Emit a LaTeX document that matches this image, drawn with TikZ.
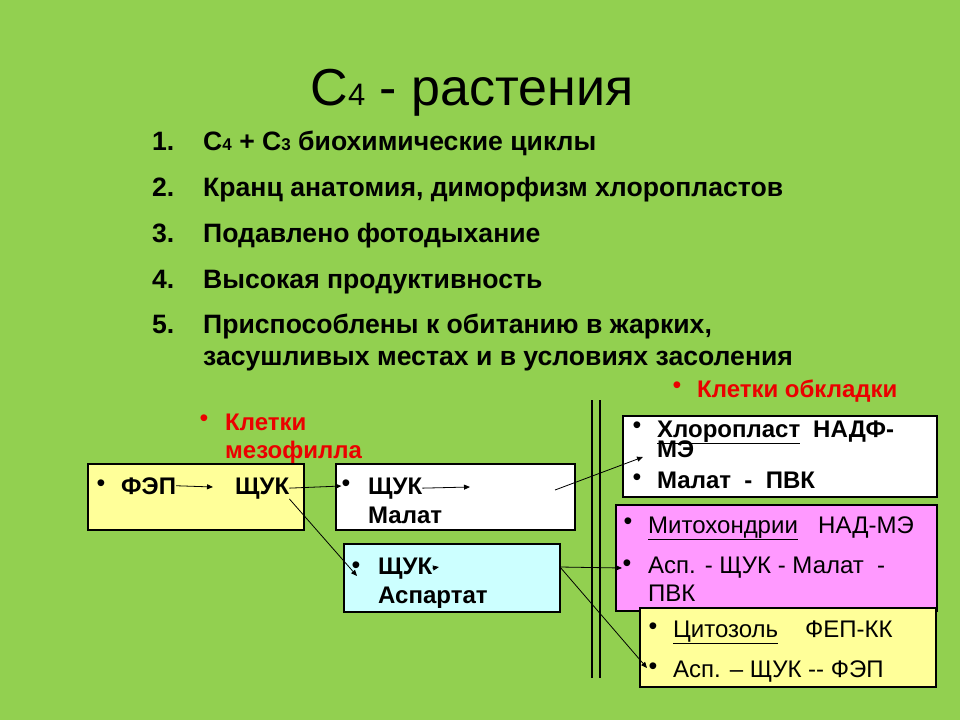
\documentclass[tikz,border=0pt]{standalone}
\usepackage{fontspec}
\setmainfont{Liberation Sans}
\usetikzlibrary{arrows.meta}
\definecolor{slidegreen}{RGB}{146,208,80}
\definecolor{paleyellow}{RGB}{255,255,153}
\definecolor{palecyan}{RGB}{204,255,255}
\definecolor{palepink}{RGB}{255,153,255}
\definecolor{labelred}{RGB}{235,0,0}
\tikzset{
  cellbox/.style={draw=black, line width=1.3pt, inner sep=0pt},
  itemtxt/.style={anchor=base west, inner sep=0pt, font=\bfseries\fontsize{26.6}{30}\selectfont},
  boldtxt/.style={anchor=base west, inner sep=0pt, font=\bfseries\fontsize{24}{26}\selectfont},
  plaintxt/.style={anchor=base west, inner sep=0pt, font=\fontsize{24}{26}\selectfont},
  redtxt/.style={anchor=base west, inner sep=0pt, text=labelred, font=\bfseries\fontsize{24}{26}\selectfont},
  dot/.style={inner sep=0pt, yshift=-3pt, font=\fontsize{25}{26}\selectfont},
  flow/.style={line width=0.8pt, -{Triangle[length=6pt,width=5pt]}},
}
\begin{document}
\begin{tikzpicture}[x=1pt,y=-1pt]
\fill[slidegreen] (0,0) rectangle (960,720);
\useasboundingbox (0,0) rectangle (960,720);
% title and list
\node[anchor=base, inner sep=0pt, font=\fontsize{52}{56}\selectfont] (title) at (472,105) {С{\fontsize{31}{32}\selectfont 4} - растения};
\node[itemtxt] (n1) at (152,150) {1.};
\node[itemtxt] (i1) at (203,150) {С{\fontsize{17}{18}\selectfont 4} + С{\fontsize{17}{18}\selectfont 3} биохимические циклы};
\node[itemtxt] (n2) at (152,196) {2.};
\node[itemtxt] (i2) at (203,196) {Кранц анатомия, диморфизм хлоропластов};
\node[itemtxt] (n3) at (152,242) {3.};
\node[itemtxt] (i3) at (203,242) {Подавлено фотодыхание};
\node[itemtxt] (n4) at (152,288) {4.};
\node[itemtxt] (i4) at (203,288) {Высокая продуктивность};
\node[itemtxt] (n5) at (152,333) {5.};
\node[itemtxt] (i5) at (203,333) {Приспособлены к обитанию в жарких,};
\node[itemtxt] (i5b) at (203,365) {засушливых местах и в условиях засоления};
% red labels
\node[dot, text=labelred] (obdot) at (677,385) {•};
\node[redtxt] (obkl) at (697,397) {Клетки обкладки};
\node[dot, text=labelred] (mezdot) at (204,418) {•};
\node[redtxt] (mez1) at (225,430) {Клетки};
\node[redtxt] (mez2) at (225,458) {мезофилла};
% boxes
\node[cellbox, fill=paleyellow, minimum width=216pt, minimum height=66pt] (mesobox) at (196,497) {};
\node[cellbox, fill=white, minimum width=239pt, minimum height=66pt] (malbox) at (455.5,497) {};
\node[cellbox, fill=palecyan, minimum width=216pt, minimum height=68pt] (aspbox) at (452,578) {};
\node[cellbox, fill=white, minimum width=314pt, minimum height=81pt] (chlbox) at (780,456.5) {};
\node[cellbox, fill=palepink, minimum width=321pt, minimum height=106pt] (mitbox) at (776.5,558) {};
\node[cellbox, fill=paleyellow, minimum width=296pt, minimum height=79pt] (cytbox) at (788,647.5) {};
% double wall
\draw[line width=1.2pt] (592,400) -- (592,678);
\draw[line width=1.2pt] (600,400) -- (600,678);
% mesophyll texts
\node[dot] (fepdot) at (101,483) {•};
\node[boldtxt] (fep) at (121,494) {ФЭП};
\node[boldtxt] (shukA) at (235,494) {ЩУК};
\node[dot] (maldot) at (346,483) {•};
\node[boldtxt] (shukB) at (368,494) {ЩУК};
\node[boldtxt] (malat) at (368,523) {Малат};
\node[dot] (aspdot) at (356,565) {•};
\node[boldtxt] (shukC) at (378,574) {ЩУК};
\node[boldtxt] (aspart) at (378,603) {Аспартат};
% bundle sheath texts
\node[dot] (chldot) at (637,425) {•};
\node[boldtxt] (chl) at (657,437) {\underline{Хлоропласт}};
\node[boldtxt] (nadf) at (813,437) {НАДФ-};
\node[boldtxt] (me) at (657,457) {МЭ};
\node[dot] (chldot2) at (637,477) {•};
\node[boldtxt] (chl2) at (657,488) {Малат\ \ -\ \ ПВК};
\node[dot] (mitdot) at (628,521) {•};
\node[plaintxt] (mit) at (648,533) {\underline{Митохондрии}};
\node[plaintxt] (nad) at (818,533) {НАД-МЭ};
\node[dot] (mitdot2) at (627,563) {•};
\node[plaintxt] (mit2) at (648,573) {Асп. - ЩУК - Малат\ \ -};
\node[plaintxt] (mit3) at (648,601) {ПВК};
\node[dot] (cytdot) at (653,626) {•};
\node[plaintxt] (cyt) at (673,637) {\underline{Цитозоль}};
\node[plaintxt] (fepkk) at (805,637) {ФЕП-КК};
\node[dot] (cytdot2) at (653,666) {•};
\node[plaintxt] (cyt2) at (673,677) {Асп. – ЩУК -{}- ФЭП};
% arrows
\coordinate (feptip) at (213,487);
\coordinate (shukBtip) at (470,487);
\coordinate (shukCtip) at (439,567);
\coordinate (malout) at (555,490);
\coordinate (chlin) at (643,457);
\coordinate (aspin) at (357,576);
\coordinate (aspout) at (560,567);
\coordinate (mitin) at (622,568);
\coordinate (cytin) at (647,668);
\draw[flow] (fep.east) -- (feptip);
\draw[flow] (shukA.east) -- (maldot.west);
\draw[flow] (shukA.south east) -- (aspin);
\draw[flow] (shukB.east) -- (shukBtip);
\draw[flow] (shukC.east) -- (shukCtip);
\draw[flow] (malout) -- (chlin);
\draw[flow] (aspout) -- (mitin);
\draw[flow] (aspout) -- (cytin);
\end{tikzpicture}
\end{document}
